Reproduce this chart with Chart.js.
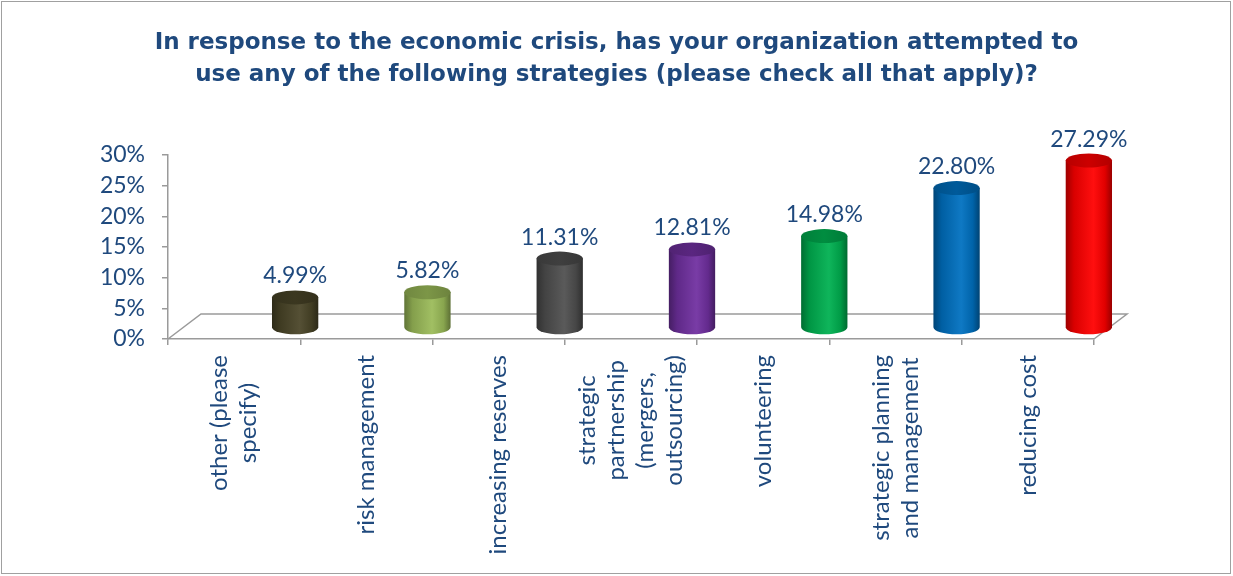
<!DOCTYPE html>
<html>
<head>
<meta charset="utf-8">
<script src="https://cdn.jsdelivr.net/npm/chart.js@4"></script>
<style>
  html, body { margin: 0; padding: 0; background: #ffffff; }
  #wrap { width: 1233px; height: 576px; }
</style>
</head>
<body>
<div id="wrap"><canvas id="strategyChart" width="1233" height="576"></canvas></div>
<script>
// chart data
var titleLines = [
    'In response to the economic crisis, has your organization attempted to',
    'use any of the following strategies (please check all that apply)?'
];
var categories = [
    ['other (please', 'specify)'],
    ['risk management'],
    ['increasing reserves'],
    ['strategic', 'partnership', '(mergers,', 'outsourcing)'],
    ['volunteering'],
    ['strategic planning', 'and management'],
    ['reducing cost']
];
var values = [4.99, 5.82, 11.31, 12.81, 14.98, 22.80, 27.29];
var barColors = ['#4A4528', '#9BBB59', '#4F4F4F', '#7030A0', '#00B050', '#0070C0', '#FF0000'];
var yMax = 30;
var yStep = 5;

var TEXT_COLOR = '#1F497D';
var LINE_COLOR = '#9A9A9A';
var FONT = 'Lato, "Open Sans", sans-serif';

// 3d look
var FLOOR_DX = 33, FLOOR_DY = 25;
var BAR_DX = 61, BAR_DY = -11;
var CAP_RY = 7;

function shade(hex, f) {
    var r = parseInt(hex.substr(1, 2), 16);
    var g = parseInt(hex.substr(3, 2), 16);
    var b = parseInt(hex.substr(5, 2), 16);
    function c(v) {
        var o = f <= 1 ? v * f : v + (255 - v) * (f - 1);
        return Math.max(0, Math.min(255, Math.round(o)));
    }
    return 'rgb(' + c(r) + ',' + c(g) + ',' + c(b) + ')';
}

var chartFrame = {
    id: 'chartFrame',
    beforeDraw: function(chart) {
        var ctx = chart.ctx;
        ctx.save();
        ctx.fillStyle = '#ffffff';
        ctx.fillRect(0, 0, chart.width, chart.height);
        ctx.strokeStyle = '#A0A0A0';
        ctx.lineWidth = 1;
        ctx.strokeRect(1.5, 1.5, chart.width - 4, chart.height - 4);
        ctx.restore();
    }
};

var floor3d = {
    id: 'floor3d',
    beforeDatasetsDraw: function(chart) {
        var a = chart.chartArea;
        var ctx = chart.ctx;
        ctx.save();
        ctx.strokeStyle = LINE_COLOR;
        ctx.lineWidth = 1.5;
        ctx.beginPath();
        ctx.moveTo(a.left, a.bottom);
        ctx.lineTo(a.left + FLOOR_DX, a.bottom - FLOOR_DY);
        ctx.lineTo(a.right + FLOOR_DX, a.bottom - FLOOR_DY);
        ctx.lineTo(a.right, a.bottom);
        ctx.stroke();
        ctx.restore();
    }
};

var cylinders = {
    id: 'cylinders',
    beforeDatasetDraw: function() {
        return false;
    },
    afterDatasetsDraw: function(chart) {
        var ctx = chart.ctx;
        var meta = chart.getDatasetMeta(0);
        meta.data.forEach(function(bar, i) {
            var color = barColors[i];
            var rx = bar.width / 2;
            var cx = bar.x + BAR_DX;
            var top = bar.y + BAR_DY;
            var bottom = bar.base + BAR_DY;

            ctx.save();
            var grad = ctx.createLinearGradient(cx - rx, 0, cx + rx, 0);
            grad.addColorStop(0, shade(color, 0.62));
            grad.addColorStop(0.18, shade(color, 0.85));
            grad.addColorStop(0.6, shade(color, 1.06));
            grad.addColorStop(0.85, shade(color, 0.88));
            grad.addColorStop(1, shade(color, 0.6));
            ctx.fillStyle = grad;
            ctx.beginPath();
            ctx.moveTo(cx - rx, top);
            ctx.lineTo(cx - rx, bottom);
            ctx.ellipse(cx, bottom, rx, CAP_RY, 0, Math.PI, 0, true);
            ctx.lineTo(cx + rx, top);
            ctx.closePath();
            ctx.fill();

            var capGrad = ctx.createLinearGradient(cx - rx, 0, cx + rx, 0);
            capGrad.addColorStop(0, shade(color, 0.72));
            capGrad.addColorStop(0.5, shade(color, 0.8));
            capGrad.addColorStop(1, shade(color, 0.7));
            ctx.fillStyle = capGrad;
            ctx.beginPath();
            ctx.ellipse(cx, top, rx, CAP_RY, 0, 0, Math.PI * 2);
            ctx.fill();

            ctx.fillStyle = TEXT_COLOR;
            ctx.font = '23px ' + FONT;
            ctx.textAlign = 'center';
            ctx.textBaseline = 'alphabetic';
            ctx.fillText(values[i].toFixed(2) + '%', cx, top - CAP_RY - 7);
            ctx.restore();
        });
    }
};

var categoryLabels = {
    id: 'categoryLabels',
    afterDraw: function(chart) {
        var xs = chart.scales.x;
        var ctx = chart.ctx;
        var lineH = 29;
        ctx.save();
        ctx.fillStyle = TEXT_COLOR;
        ctx.font = '24px ' + FONT;
        categories.forEach(function(lines, i) {
            var x = xs.getPixelForValue(i);
            var y = chart.chartArea.bottom + 16;
            var n = lines.length;
            var widths = lines.map(function(l) { return ctx.measureText(l).width; });
            var maxW = Math.max.apply(null, widths);
            lines.forEach(function(line, k) {
                ctx.save();
                var lx = x + (k - (n - 1) / 2) * lineH;
                ctx.translate(lx, y + maxW / 2);
                ctx.rotate(-Math.PI / 2);
                ctx.textAlign = 'center';
                ctx.textBaseline = 'middle';
                ctx.fillText(line, 0, 0);
                ctx.restore();
            });
        });
        ctx.restore();
    }
};

var ctx = document.getElementById('strategyChart').getContext('2d');
new Chart(ctx, {
    type: 'bar',
    data: {
        labels: categories,
        datasets: [{
            data: values,
            backgroundColor: barColors,
            barPercentage: 0.35,
            categoryPercentage: 1
        }]
    },
    options: {
        responsive: false,
        animation: false,
        layout: {
            padding: { left: 10, right: 10, top: 0, bottom: 231 }
        },
        plugins: {
            legend: { display: false },
            tooltip: { enabled: false },
            title: {
                display: true,
                text: titleLines,
                color: TEXT_COLOR,
                font: { family: '"DejaVu Sans", sans-serif', size: 23, weight: 'bold', lineHeight: 1.39 },
                padding: { top: 27, bottom: 64 }
            }
        },
        scales: {
            x: {
                ticks: { display: false },
                grid: { drawOnChartArea: false, tickLength: 6, color: LINE_COLOR, lineWidth: 1.5 },
                border: { color: LINE_COLOR, width: 1.5 }
            },
            y: {
                min: 0,
                max: yMax,
                ticks: {
                    stepSize: yStep,
                    padding: 17,
                    color: TEXT_COLOR,
                    font: { family: FONT, size: 23 },
                    callback: function(v) { return v + '%'; }
                },
                grid: { drawOnChartArea: false, tickLength: 6, color: LINE_COLOR, lineWidth: 1.5 },
                border: { color: LINE_COLOR, width: 1.5 },
                afterFit: function(scale) { scale.width = 158; }
            },
            // empty right gutter so the plot ends where the reference's does
            gutter: {
                type: 'linear',
                position: 'right',
                ticks: { display: false },
                grid: { display: false },
                border: { display: false },
                afterFit: function(scale) { scale.width = 129; }
            }
        }
    },
    plugins: [chartFrame, floor3d, cylinders, categoryLabels]
});
</script>
</body>
</html>
